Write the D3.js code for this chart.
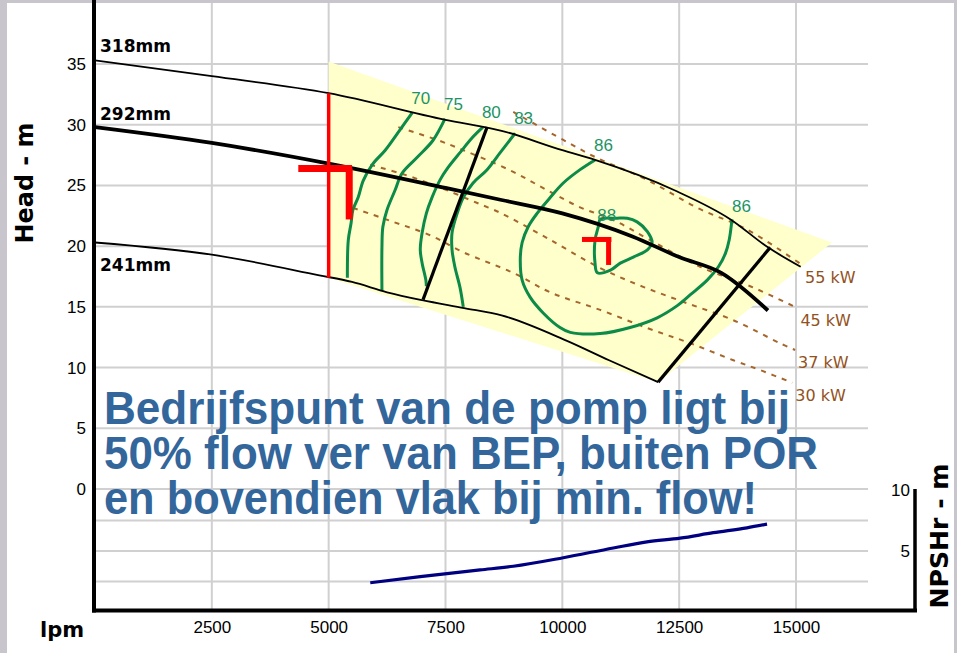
<!DOCTYPE html>
<html>
<head>
<meta charset="utf-8">
<script src="https://d3js.org/d3.v7.min.js"></script>
<style>
body { margin: 0; background: #fff; }
svg { display: block; }
</style>
</head>
<body>
<svg width="957" height="653"></svg>
<script>
// ticks
var flowTicks = [2500, 5000, 7500, 10000, 12500, 15000];
var headTicks = [0, 5, 10, 15, 20, 25, 30, 35];
var npshTicks = [5, 10];
var npshGrid = [2.5, 5, 7.5];

// impeller curves [lpm, m]
var impellerNames = ["318mm", "292mm", "241mm"];
var head318 = [[0,35.3],[2500,34.0],[5000,32.6],[7500,30.4],[8700,29.5],[10000,27.9],[10700,27.1],[12400,24.6],[13600,22.2],[14400,19.9],[15100,18.3]];
var head292 = [[0,29.8],[2500,28.5],[5000,26.8],[7500,24.8],[8700,23.8],[10000,22.7],[11500,20.8],[12500,19.1],[13400,17.8],[14400,14.7]];
var head241 = [[0,20.3],[2500,19.3],[4800,17.6],[5500,17.05],[6250,16.2],[7000,15.55],[7900,14.9],[8700,14.3],[10100,12.2],[11000,10.6],[12050,8.8]];

// efficiency contours (%)
var effNames = ["70", "75", "80", "83", "86"];
var eff70 = [[6790,31.0],[6530,29.6],[6210,27.9],[5930,26.7],[5740,25.4],[5630,24.0],[5520,23.0],[5480,21.9],[5420,20.5],[5400,17.4]];
var eff75 = [[7490,30.5],[7230,28.7],[6890,27.3],[6570,26.0],[6420,24.6],[6250,23.0],[6160,21.6],[6140,19.9],[6140,16.3]];
var eff80 = [[8300,29.8],[8090,29.0],[7810,27.7],[7560,26.5],[7390,25.5],[7210,24.0],[7090,22.7],[7000,21.1],[6960,19.7],[7000,18.6],[7080,17.2],[7090,16.7]];
var eff83 = [[8990,29.3],[8670,27.7],[8390,26.3],[8090,25.2],[7880,24.0],[7750,22.7],[7640,21.1],[7640,19.7],[7700,18.3],[7810,16.6],[7880,15.0]];
var eff86 = [[10700,27.1],[10380,26.3],[10020,25.2],[9740,24.0],[9460,22.7],[9270,21.6],[9140,20.3],[9100,18.9],[9140,17.2],[9310,15.8],[9590,14.5],[9950,13.3],[10170,12.9],[10810,12.8],[11450,13.3],[12030,14.1],[12460,15.1],[12740,16.0],[13100,17.2],[13340,18.3],[13490,19.4],[13570,20.5],[13630,22.2]];
var eff88 = [[10810,22.2],[11170,22.3],[11390,22.3],[11600,22.0],[11820,21.2],[11920,20.3],[11820,19.7],[11520,19.1],[11240,18.6],[11020,18.0],[10750,17.8],[10700,18.6],[10700,20.5],[10770,21.6]];

// power lines
var powerNames = ["55 kW", "45 kW", "37 kW", "30 kW"];
var power55 = [[8950,31.05],[10020,28.75],[10750,27.25],[11820,25.45],[12890,23.15],[13960,21.35],[15130,18.45]];
var power45 = [[6490,29.8],[7320,28.75],[7880,27.9],[8880,26.25],[9680,24.6],[10380,23.2],[11090,22.15],[11880,20.5],[12950,18.3],[14080,16.6],[15030,14.9]];
var power37 = [[5890,26.7],[6530,26.0],[7240,25.05],[8180,23.55],[8670,22.75],[9680,20.65],[10810,18.2],[11730,16.65],[12670,15.3],[13660,13.9],[14660,12.0],[14980,11.45]];
var power30 = [[5520,23.15],[6380,22.0],[7170,20.9],[7880,19.5],[8950,17.8],[9740,16.2],[10810,14.75],[11820,13.25],[12740,12.0],[13660,10.6],[14230,9.8],[14920,8.75]];

// operating region + markers
var porArea = [[5000,35.2],[15770,20.3],[12050,8.8],[5000,17.4]];
var porLeft = [[8390,29.8],[7020,15.6]];
var porRight = [[14450,19.9],[12050,8.8]];
var minFlow = [[5000,32.6],[5000,17.4]];
var dutyBar = [[4350,26.4],[5500,26.4]];
var dutyStem = [[5440,26.4],[5440,22.2]];
var bepBar = [[10420,20.55],[11050,20.55]];
var bepStem = [[10990,20.55],[10990,18.45]];

// NPSHr [lpm, m]
var npshCurve = [[5890,2.4],[6960,2.9],[8240,3.45],[8950,3.75],[10020,4.45],[11090,5.25],[11810,5.75],[12520,6.05],[13230,6.5],[13950,6.9],[14380,7.2]];

var noteLines = ["Bedrijfspunt van de pomp ligt bij", "50% flow ver van BEP, buiten POR", "en bovendien vlak bij min. flow!"];
var noteWidths = [686, 714, 653];

var svg = d3.select("svg");
var axisX = 94, gridRight = 868, gridTop = 3, axisY = 610.5, npshAxisX = 915;

var x = d3.scaleLinear().domain([0, 15000]).range([95, 796]);
var yH = d3.scaleLinear().domain([0, 35]).range([489, 64]);
var yN = d3.scaleLinear().domain([0, 10]).range([612, 490]);

// window edges
svg.append("rect").attr("x",0).attr("y",0).attr("width",957).attr("height",3).attr("fill","#c9c5cc");
svg.append("rect").attr("x",0).attr("y",0).attr("width",7).attr("height",653).attr("fill","#c9c5cc");
svg.append("rect").attr("x",954).attr("y",0).attr("width",3).attr("height",653).attr("fill","#c9c5cc");

// grid
var grid = svg.append("g").attr("stroke","#d0d0d0").attr("stroke-width",2);
grid.selectAll(".gx").data(flowTicks).enter().append("line")
    .attr("x1",d=>x(d)).attr("x2",d=>x(d)).attr("y1",gridTop).attr("y2",axisY);
grid.selectAll(".gh").data(headTicks).enter().append("line")
    .attr("x1",axisX).attr("x2",gridRight).attr("y1",d=>yH(d)).attr("y2",d=>yH(d));
grid.selectAll(".gn").data(npshGrid).enter().append("line")
    .attr("x1",axisX).attr("x2",gridRight).attr("y1",d=>yN(d)).attr("y2",d=>yN(d));

var lineH = d3.line().x(d=>x(d[0])).y(d=>yH(d[1]));

// preferred operating region
svg.append("path").datum(porArea)
    .attr("d", lineH.curve(d3.curveLinearClosed))
    .attr("fill","#ffffcc");

// power lines
var powerSeries = [power55, power45, power37, power30];
svg.selectAll(".pw").data(powerSeries).enter().append("path")
    .attr("d", d3.line().x(d=>x(d[0])).y(d=>yH(d[1])).curve(d3.curveCatmullRom))
    .attr("fill","none").attr("stroke","#a5652b").attr("stroke-width",2)
    .attr("stroke-dasharray","5,6");
svg.selectAll(".pwl").data(powerSeries).enter().append("text")
    .attr("x",d=>x(d[d.length-1][0])+3)
    .attr("y",d=>yH(d[d.length-1][1])+18)
    .attr("font-family","DejaVu Sans").attr("font-size",16)
    .attr("fill","#93511c")
    .text((d,i)=>powerNames[i]);

// efficiency contours
var effLine = d3.line().x(d=>x(d[0])).y(d=>yH(d[1])).curve(d3.curveCatmullRom);
var effSeries = [eff70, eff75, eff80, eff83, eff86];
svg.selectAll(".ef").data(effSeries).enter().append("path")
    .attr("d", effLine)
    .attr("fill","none").attr("stroke","#0b8a48").attr("stroke-width",3);
svg.append("path").datum(eff88)
    .attr("d", d3.line().x(d=>x(d[0])).y(d=>yH(d[1])).curve(d3.curveCatmullRomClosed))
    .attr("fill","none").attr("stroke","#0b8a48").attr("stroke-width",3);

var effText = svg.append("g").attr("font-family","Liberation Sans").attr("font-size",17).attr("fill","#1d9464");
effText.selectAll("text").data(effSeries).enter().append("text")
    .attr("x",d=>x(d[0][0])-1)
    .attr("y",d=>yH(d[0][1])-9)
    .text((d,i)=>effNames[i]);
effText.append("text")
    .attr("x",x(eff86[eff86.length-1][0]))
    .attr("y",yH(eff86[eff86.length-1][1])-7)
    .text("86");
effText.append("text")
    .attr("x",x(eff88[0][0])-3)
    .attr("y",yH(eff88[0][1])+2)
    .text("88");

// impeller curves
var headSeries = [head318, head292, head241];
var headWidths = [1.8, 3.8, 1.8];
svg.selectAll(".hc").data(headSeries).enter().append("path")
    .attr("d", d3.line().x(d=>x(d[0])).y(d=>yH(d[1])).curve(d3.curveMonotoneX))
    .attr("fill","none").attr("stroke","#000").attr("stroke-width",(d,i)=>headWidths[i]);
var headLabelDy = [-8, -7, 28];
svg.selectAll(".hl").data(headSeries).enter().append("text")
    .attr("x",100)
    .attr("y",(d,i)=>yH(d[0][1])+headLabelDy[i])
    .attr("font-family","DejaVu Sans").attr("font-weight","bold").attr("font-size",17)
    .text((d,i)=>impellerNames[i]);

// POR limits
var seg = d3.line().x(d=>x(d[0])).y(d=>yH(d[1]));
[porLeft, porRight].forEach(function(p) {
    svg.append("path").attr("d", seg(p)).attr("stroke","#000").attr("stroke-width",3.2).attr("fill","none");
});

// red markers
svg.append("path").attr("d", seg(minFlow)).attr("stroke","#ff0000").attr("stroke-width",3.5);
svg.append("path").attr("d", seg(dutyBar)).attr("stroke","#ff0000").attr("stroke-width",7);
svg.append("path").attr("d", seg(dutyStem)).attr("stroke","#ff0000").attr("stroke-width",7);
svg.append("path").attr("d", seg(bepBar)).attr("stroke","#ff0000").attr("stroke-width",5);
svg.append("path").attr("d", seg(bepStem)).attr("stroke","#ff0000").attr("stroke-width",5);

// NPSHr curve
svg.append("path").datum(npshCurve)
    .attr("d", d3.line().x(d=>x(d[0])).y(d=>yN(d[1])).curve(d3.curveMonotoneX))
    .attr("fill","none").attr("stroke","#000080").attr("stroke-width",3.2);

// axes
var gy = svg.append("g").attr("transform","translate(" + axisX + ",0)")
    .call(d3.axisLeft(yH).tickValues(headTicks).tickSize(0).tickPadding(8));
var gx = svg.append("g").attr("transform","translate(0," + axisY + ")")
    .call(d3.axisBottom(x).tickValues(flowTicks).tickSize(0).tickPadding(10.5).tickFormat(d3.format("d")));
var gn = svg.append("g").attr("transform","translate(" + (npshAxisX - 1) + ",0)")
    .call(d3.axisLeft(yN).tickValues(npshTicks).tickSize(0).tickPadding(4));
[gy, gx, gn].forEach(function(g) {
    g.select(".domain").remove();
    g.selectAll("text").attr("font-family","Liberation Sans").attr("font-size",17).attr("fill","#000");
});

svg.append("line").attr("x1",axisX).attr("x2",axisX).attr("y1",0).attr("y2",axisY+2)
    .attr("stroke","#000").attr("stroke-width",4);
svg.append("line").attr("x1",axisX-2).attr("x2",npshAxisX+2).attr("y1",axisY).attr("y2",axisY)
    .attr("stroke","#000").attr("stroke-width",4);
svg.append("line").attr("x1",npshAxisX).attr("x2",npshAxisX).attr("y1",yN(10)-1).attr("y2",axisY)
    .attr("stroke","#000").attr("stroke-width",3.5);

// axis titles
svg.append("text").attr("transform","translate(33,183) rotate(-90)")
    .attr("text-anchor","middle").attr("font-family","DejaVu Sans").attr("font-weight","bold")
    .attr("font-size",24).attr("textLength",121).attr("lengthAdjust","spacingAndGlyphs")
    .text("Head - m");
svg.append("text").attr("transform","translate(948,536) rotate(-90)")
    .attr("text-anchor","middle").attr("font-family","DejaVu Sans").attr("font-weight","bold")
    .attr("font-size",25).attr("textLength",145).attr("lengthAdjust","spacingAndGlyphs")
    .text("NPSHr - m");
svg.append("text").attr("x",40).attr("y",637)
    .attr("font-family","DejaVu Sans").attr("font-weight","bold").attr("font-size",21)
    .text("lpm");

// overlay note
svg.append("g").selectAll("text").data(noteLines).enter().append("text")
    .attr("x",104).attr("y",(d,i)=>424 + i*45)
    .attr("font-family","Liberation Sans").attr("font-weight","bold").attr("font-size",47)
    .attr("fill","#33669b")
    .attr("textLength",(d,i)=>noteWidths[i]).attr("lengthAdjust","spacingAndGlyphs")
    .text(d=>d);
</script>
</body>
</html>
